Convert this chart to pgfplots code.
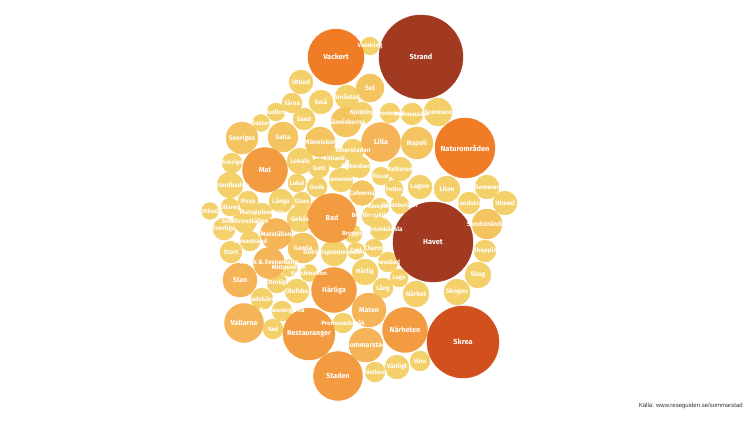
\documentclass[border=0pt]{standalone}
\usepackage{pgfplots}
\usepackage{pgfplotstable}
\pgfplotsset{compat=1.18}
\usepackage{fontspec}
\setmainfont{Fira Sans}
\newfontfamily\srcfont{Liberation Sans}

\definecolor{cA}{RGB}{162,57,33}
\definecolor{cB}{RGB}{210,80,30}
\definecolor{cC}{RGB}{240,125,37}
\definecolor{cD}{RGB}{243,155,64}
\definecolor{cE}{RGB}{245,180,88}
\definecolor{cG}{RGB}{244,196,96}
\definecolor{cF}{RGB}{243,208,106}

% word groups: centre of each bubble (x, y from top left) and its word
\pgfplotstableread[col sep=comma]{
x,y,label
421,57,Strand
}\wStrand
\pgfplotstableread[col sep=comma]{
x,y,label
433,242,Havet
}\wHavet
\pgfplotstableread[col sep=comma]{
x,y,label
463,342,Skrea
}\wSkrea
\pgfplotstableread[col sep=comma]{
x,y,label
465,148,Naturområden
}\wNatur
\pgfplotstableread[col sep=comma]{
x,y,label
336,57,Vackert
}\wVackert
\pgfplotstableread[col sep=comma]{
x,y,label
309,334,Restauranger
}\wDa
\pgfplotstableread[col sep=comma]{
x,y,label
338,376,Staden
332,218,Bad
}\wDb
\pgfplotstableread[col sep=comma]{
x,y,label
334,290,Härliga
405,330,Närheten
265,170,Mat
}\wDc
\pgfplotstableread[col sep=comma]{
x,y,label
381,142,Lilla
244,323,Vallarna
}\wEa
\pgfplotstableread[col sep=comma]{
x,y,label
240,280,Stan
369,310,Maten
366,345,Sommarstad
}\wEb
\pgfplotstableread[col sep=comma]{
x,y,label
276,234,Matställen
269,263,Musik \& Evenemang
}\wEc
\pgfplotstableread[col sep=comma]{
x,y,label
417,143,Napoli
242,138,Sveriges
}\wGa
\pgfplotstableread[col sep=comma]{
x,y,label
283,137,Salta
320,142,Människor
346,122,Människorna
487,224,Sandstränder
303,248,Gamla
}\wGb
\pgfplotstableread[col sep=comma]{
x,y,label
370,88,Sol
}\wGc
\pgfplotstableread[col sep=comma]{
x,y,label
362,193,Cafeerna
}\wGd
\pgfplotstableread[col sep=comma]{
x,y,label
438,112,Sommare
}\wFa
\pgfplotstableread[col sep=comma]{
x,y,label
447,189,Liten
300,161,Lokala
478,275,Skog
457,292,Skogen
416,294,Närhet
365,272,Härlig
334,253,Doktorspromenaden
300,219,Gekås
230,185,Strandbaden
}\wFb
\pgfplotstableread[col sep=comma]{
x,y,label
321,102,Små
400,169,Kulturen
420,187,Lagom
397,367,Vänligt
301,82,Utbud
347,97,Småstad
341,180,Evenemang
487,187,Sommar
505,203,Utmed
281,201,Långa
245,221,Smultronställen
297,291,Olofsbo
}\wFc
\pgfplotstableread[col sep=comma]{
x,y,label
304,119,Sand
362,113,Njutning
412,114,Promenader
353,150,Innerstaden
359,167,Falkenbergs
469,203,Sandstra
485,251,Shoppin
381,229,Centrumkänsla
224,229,Trevliga
231,252,Stort
262,299,Stadskärna
}\wFd
\pgfplotstableread[col sep=comma]{
x,y,label
390,113,Promenad
336,158,Inland
319,168,Gott
317,187,Goda
372,216,Bra för cykling
383,288,Lång
388,262,Havsbad
248,201,Pizza
232,163,Sverige
262,213,Matupplevelser
250,241,Skreastrand
277,283,Otroligt
282,311,Restaurangerna
273,329,Vad
343,323,Promenadstråk
375,372,Västkust
292,103,Tårna
420,361,Våra
}\wFe
\pgfplotstableread[col sep=comma]{
x,y,label
370,46,Vandring
276,112,Kullbro
381,176,Finast
297,183,Lokal
394,189,Fotbo
400,205,Gårdsbutiker
380,207,Camping
399,278,Lugn
374,248,Charmi
353,234,Bryggor
302,201,Glass
230,207,Ullared
}\wFf
\pgfplotstableread[col sep=comma]{
x,y,label
261,123,Teater
356,251,Cykl
210,211,Utbud
289,268,Mittpunkten
309,273,Kombination
}\wFg

% bubbles of one size and colour: table, colour, radius
\newcommand\bubbles[3]{%
  \addplot[only marks, mark=*, mark size=#3, draw=#2, fill=#2]
    table[x=x, y=y] {#1};}
% the words of a group: table, font size
\newcommand\words[2]{%
  \addplot[only marks, mark=none,
    point meta=explicit symbolic,
    nodes near coords,
    every node near coord/.style={anchor=center, inner sep=0pt,
      text=white, font=\bfseries\fontsize{#2}{#2}\selectfont}]
    table[x=x, y=y, meta=label] {#1};}

\begin{document}
\begin{tikzpicture}
\begin{axis}[
  width=746pt, height=420pt, scale only axis,
  xmin=0, xmax=746, ymin=0, ymax=420,
  y dir=reverse,
  ticks=none,
  axis line style={draw=none},
  clip=false,
]
\bubbles{\wFa}{cF}{14}
\bubbles{\wFb}{cF}{13}
\bubbles{\wFc}{cF}{12}
\bubbles{\wFd}{cF}{11}
\bubbles{\wFe}{cF}{10}
\bubbles{\wFf}{cF}{9}
\bubbles{\wFg}{cF}{8.5}
\bubbles{\wGa}{cG}{16}
\bubbles{\wGb}{cG}{15}
\bubbles{\wGc}{cG}{14}
\bubbles{\wGd}{cG}{12.5}
\bubbles{\wEa}{cE}{19.5}
\bubbles{\wEb}{cE}{17}
\bubbles{\wEc}{cE}{15.5}
\bubbles{\wDa}{cD}{26}
\bubbles{\wDb}{cD}{24.5}
\bubbles{\wDc}{cD}{22.5}
\bubbles{\wNatur}{cC}{30}
\bubbles{\wVackert}{cC}{28}
\bubbles{\wSkrea}{cB}{36}
\bubbles{\wHavet}{cA}{40}
\bubbles{\wStrand}{cA}{42}
\words{\wFa}{6.4}
\words{\wFb}{6.5}
\words{\wFc}{6.4}
\words{\wFd}{6.3}
\words{\wFe}{6.2}
\words{\wFf}{6.1}
\words{\wFg}{6.1}
\words{\wGa}{6.8}
\words{\wGb}{6.5}
\words{\wGc}{6.8}
\words{\wGd}{6.3}
\words{\wEa}{7.2}
\words{\wEb}{7}
\words{\wEc}{6.4}
\words{\wDa}{7.2}
\words{\wDb}{7.2}
\words{\wDc}{7.2}
\words{\wNatur}{7.4}
\words{\wVackert}{7.4}
\words{\wSkrea}{7.4}
\words{\wHavet}{7.4}
\words{\wStrand}{7.4}
\node[anchor=east, inner sep=0pt, text=black!80,
      font=\srcfont\fontsize{6}{6}\selectfont]
  at (axis cs:743,406) {Källa: www.reseguiden.se/sommarstad};
\end{axis}
\end{tikzpicture}
\end{document}
